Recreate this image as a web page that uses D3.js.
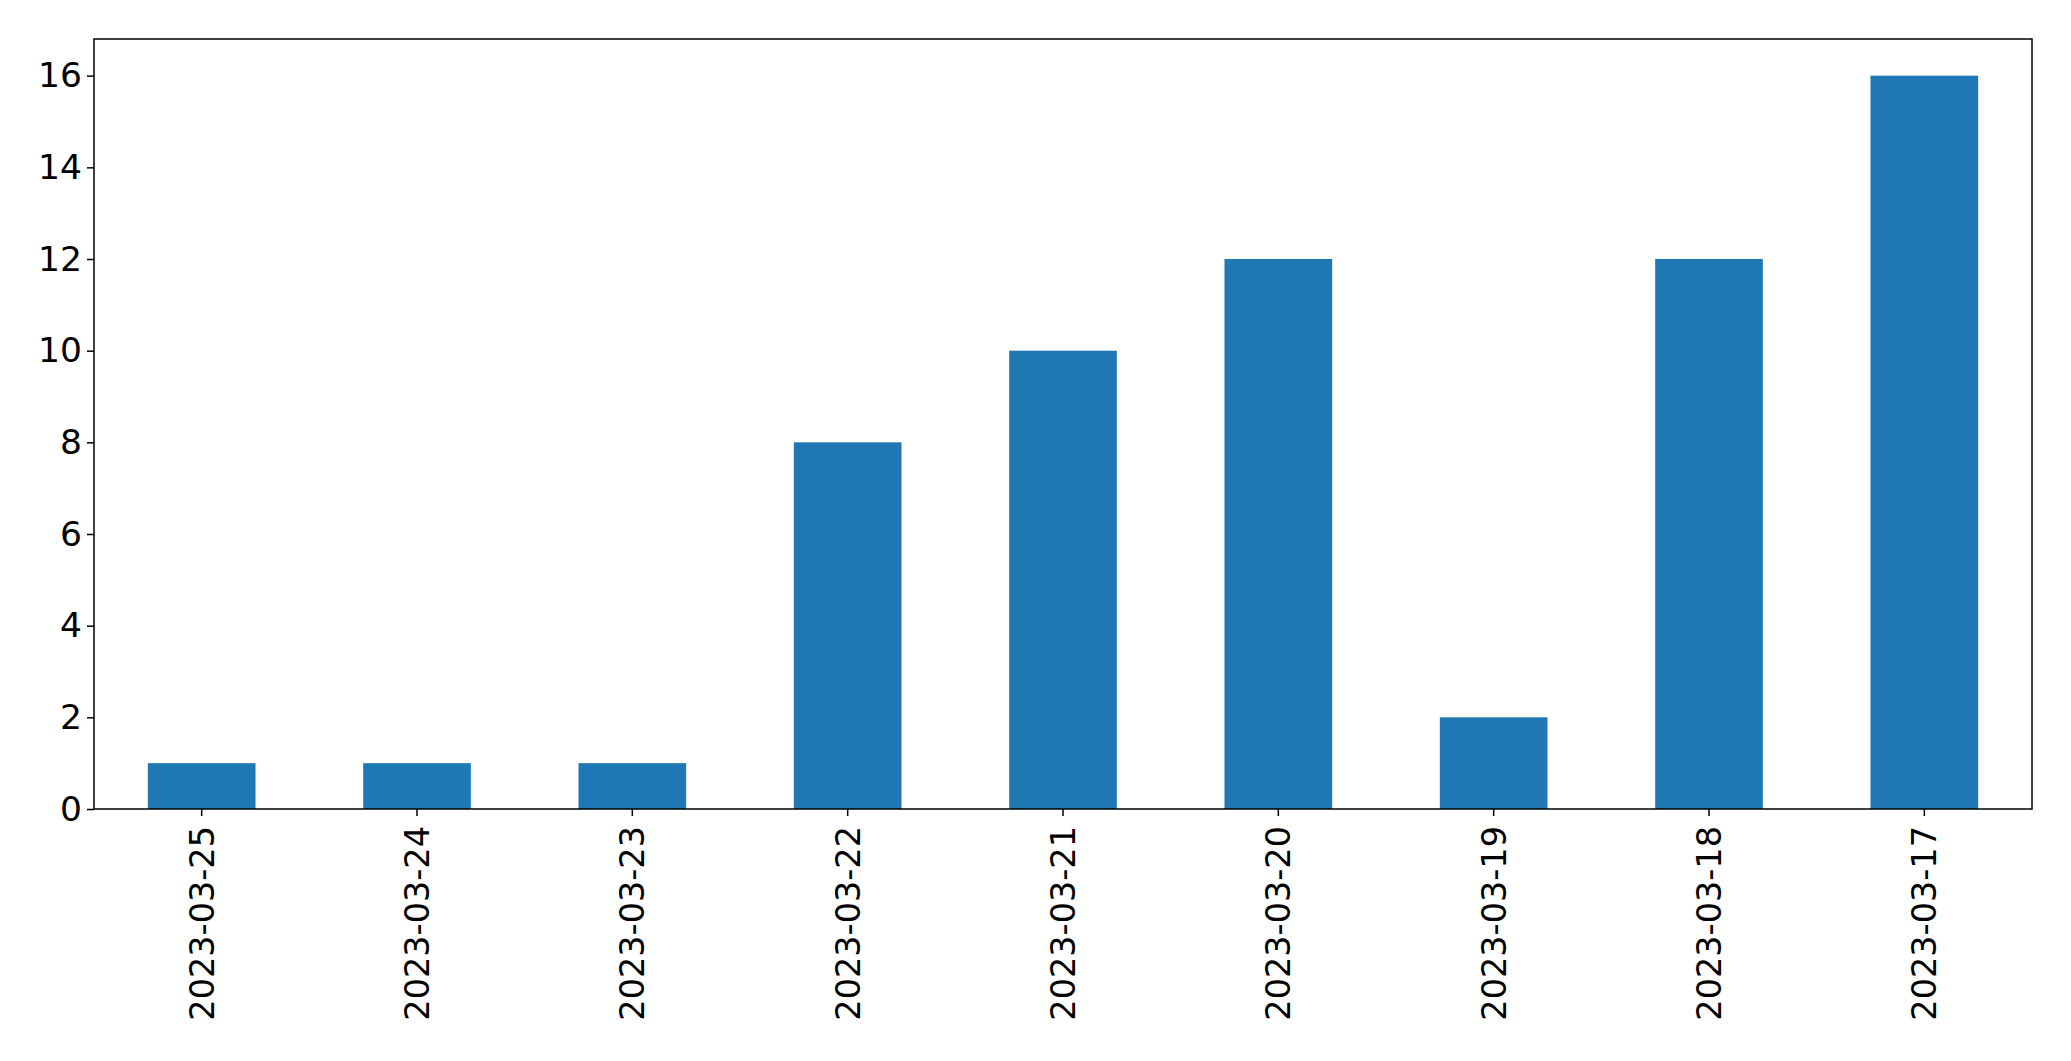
<!DOCTYPE html>
<html>
<head>
<meta charset="utf-8">
<script src="https://cdn.jsdelivr.net/npm/d3@7"></script>
<style>
  html, body { margin: 0; padding: 0; background: #fff; }
  svg { display: block; }
  text { font-family: "DejaVu Sans", sans-serif; fill: #000; }
</style>
</head>
<body>
<svg id="chart" width="2071" height="1061"></svg>
<script>
const categories = ["2023-03-25", "2023-03-24", "2023-03-23", "2023-03-22", "2023-03-21", "2023-03-20", "2023-03-19", "2023-03-18", "2023-03-17"];
const values = [1, 1, 1, 8, 10, 12, 2, 12, 16];
const yTicks = [0, 2, 4, 6, 8, 10, 12, 14, 16];

const W = 2071, H = 1061;
const m = { left: 94, right: 2032, top: 39, bottom: 809 };
const svg = d3.select("#chart");

const x = d3.scaleBand().domain(categories).range([m.left, m.right]).paddingInner(0.5).paddingOuter(0.25);
const y = d3.scaleLinear().domain([0, 16.8]).range([m.bottom, m.top]);

// bars
svg.append("g").selectAll("rect").data(values).join("rect")
  .attr("x", (d, i) => x(categories[i]))
  .attr("width", x.bandwidth())
  .attr("y", d => y(d))
  .attr("height", d => y(0) - y(d))
  .attr("fill", "#1f77b4");

// y axis
const yAxis = svg.append("g").attr("transform", `translate(${m.left},0)`)
  .call(d3.axisLeft(y).tickValues(yTicks).tickFormat(d3.format("d")).tickSize(7).tickPadding(5));
yAxis.select(".domain").remove();
yAxis.selectAll("line").attr("stroke", "#000").attr("stroke-width", 1.5);
yAxis.selectAll("text").attr("font-size", "34.5px").attr("font-family", "DejaVu Sans").attr("fill", "#000");

// x axis
const xAxis = svg.append("g").attr("transform", `translate(0,${m.bottom})`)
  .call(d3.axisBottom(x).tickSize(7).tickPadding(0));
xAxis.select(".domain").remove();
xAxis.selectAll("line").attr("stroke", "#000").attr("stroke-width", 1.5);
xAxis.selectAll("text")
  .attr("font-size", "33.5px").attr("font-family", "DejaVu Sans").attr("fill", "#000")
  .attr("text-anchor", "end")
  .attr("transform", "translate(0,17) rotate(-90)")
  .attr("x", 0).attr("y", 0).attr("dy", "0.36em");

// frame
svg.append("rect")
  .attr("x", m.left).attr("y", m.top)
  .attr("width", m.right - m.left).attr("height", m.bottom - m.top)
  .attr("fill", "none").attr("stroke", "#000").attr("stroke-width", 1.5);
</script>
</body>
</html>
